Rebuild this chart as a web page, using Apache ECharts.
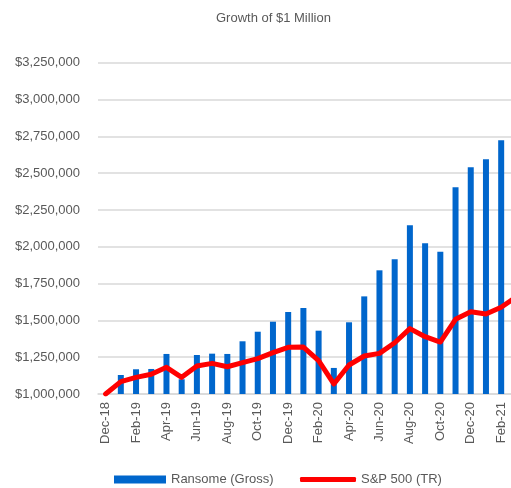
<!DOCTYPE html>
<html>
<head>
<meta charset="utf-8">
<script src="https://cdn.jsdelivr.net/npm/echarts@6/dist/echarts.min.js"></script>
<style>
  html, body { margin: 0; padding: 0; background: #fff; }
  #chart { width: 511px; height: 488px; }
</style>
</head>
<body>
<div id="chart"></div>
<script>
// months, Dec-18 .. Mar-21 (Mar-21 sits just past the right edge)
var months = ['Dec-18', 'Jan-19', 'Feb-19', 'Mar-19', 'Apr-19', 'May-19', 'Jun-19', 'Jul-19',
  'Aug-19', 'Sep-19', 'Oct-19', 'Nov-19', 'Dec-19', 'Jan-20', 'Feb-20', 'Mar-20', 'Apr-20',
  'May-20', 'Jun-20', 'Jul-20', 'Aug-20', 'Sep-20', 'Oct-20', 'Nov-20', 'Dec-20', 'Jan-21',
  'Feb-21', 'Mar-21']

// Ransome (Gross) - bars
var ransomeGross = [1000000, 1129000, 1168000, 1170000, 1272000, 1100000, 1265000, 1274000,
  1272000, 1358000, 1423000, 1491000, 1557000, 1584000, 1430000, 1177000, 1487000,
  1663000, 1840000, 1915000, 2146000, 2023000, 1966000, 2404000, 2540000, 2594000,
  2723000, null]

// S&P 500 (TR) - line
var sp500 = [1000000, 1084000, 1113000, 1134000, 1181000, 1113000, 1190000, 1208000,
  1185000, 1213000, 1240000, 1281000, 1317000, 1319000, 1226000, 1068000, 1197000,
  1258000, 1276000, 1348000, 1444000, 1389000, 1353000, 1507000, 1559000, 1543000,
  1589000, 1660000]

var yMin = 1000000
var yMax = 3250000
var yStep = 250000

var textColor = '#595959'
var font = 'Liberation Sans, Arial, sans-serif'

var chart = echarts.init(document.getElementById('chart'), null, { renderer: 'canvas' })

chart.setOption({
  animation: false,
  backgroundColor: '#fff',
  title: {
    text: 'Growth of $1 Million',
    left: 216,
    top: 12,
    padding: 0,
    textStyle: { fontFamily: font, fontSize: 13, fontWeight: 'normal', color: textColor }
  },
  // 图例拆成两个，线条图标更细
  legend: [{
    data: ['Ransome (Gross)'],
    left: 114,
    top: 473,
    padding: 0,
    itemWidth: 52,
    itemHeight: 8,
    icon: 'rect',
    textStyle: { fontFamily: font, fontSize: 13, color: textColor }
  }, {
    data: ['S&P 500 (TR)'],
    left: 300,
    top: 473,
    padding: 0,
    itemWidth: 56,
    itemHeight: 5,
    icon: 'roundRect',
    textStyle: { fontFamily: font, fontSize: 13, color: textColor }
  }],
  // 绘图区比画布宽一点，最后一个月被裁掉
  grid: {
    left: 98,
    width: 426,
    top: 62.7,
    bottom: 94,
    containLabel: false,
    outerBoundsMode: 'none'
  },
  xAxis: {
    type: 'category',
    data: months,
    boundaryGap: true,
    axisLine: { lineStyle: { color: '#d9d9d9', width: 1.5 } },
    axisTick: { show: false },
    axisLabel: {
      interval: 1,
      rotate: 90,
      margin: 8,
      fontFamily: font,
      fontSize: 13,
      color: textColor
    }
  },
  yAxis: {
    type: 'value',
    min: yMin,
    max: yMax,
    interval: yStep,
    axisLine: { show: false },
    axisTick: { show: false },
    splitLine: { lineStyle: { color: '#d9d9d9', width: 1.5 } },
    axisLabel: {
      margin: 18,
      fontFamily: font,
      fontSize: 13,
      color: textColor,
      formatter: function (v) {
        return '$' + v.toLocaleString('en-US')
      }
    }
  },
  series: [{
    name: 'Ransome (Gross)',
    type: 'bar',
    data: ransomeGross,
    barWidth: 6,
    itemStyle: { color: '#0066CC' }
  }, {
    name: 'S&P 500 (TR)',
    type: 'line',
    data: sp500,
    symbol: 'none',
    lineStyle: { color: '#FF0000', width: 5, cap: 'round', join: 'round' },
    itemStyle: { color: '#FF0000' }
  }]
})
</script>
</body>
</html>
